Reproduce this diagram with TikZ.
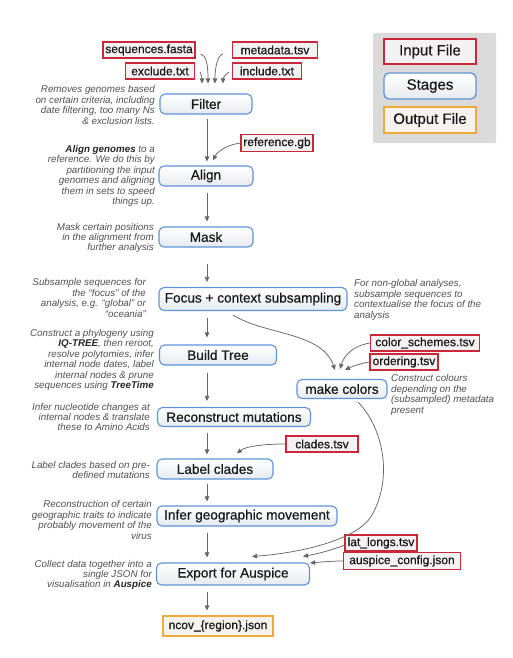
\documentclass[tikz,border=0pt]{standalone}
\usepackage{fontspec}
\setmainfont{Liberation Sans}
\newfontfamily\medfont[FakeBold=0.6]{Liberation Sans}
\usetikzlibrary{calc,arrows.meta}
\definecolor{stageblue}{HTML}{5F93D6}
\definecolor{stagefill}{HTML}{E6EAF0}
\definecolor{filered}{HTML}{C9283A}
\definecolor{filefill}{HTML}{F3F1F1}
\definecolor{outorange}{HTML}{F0AA3C}
\definecolor{outfill}{HTML}{F6F3EF}
\definecolor{descgray}{HTML}{505050}
\definecolor{arrgray}{HTML}{666666}
\definecolor{legendbg}{HTML}{DADADA}
\begin{document}
\begin{tikzpicture}[x=1pt,y=-1pt,
  stagebox/.style={draw=stageblue, line width=1.1pt, rounded corners=5pt, top color=white, bottom color=stagefill, font=\medfont\fontsize{13.6}{15}\selectfont, text=black!90, inner sep=0pt},
  filebox/.style={draw=filered, line width=1.1pt, fill=filefill, font=\medfont\fontsize{12}{14}\selectfont, text=black!90, inner sep=0pt, minimum height=16pt},
  outbox/.style={draw=outorange, line width=1.1pt, fill=outfill, font=\medfont\fontsize{12}{14}\selectfont, text=black!90, inner sep=0pt},
  legfont/.style={font=\medfont\fontsize{15}{17}\selectfont, text=black!90, inner sep=0pt, minimum width=92pt},
  desc/.style={font=\fontsize{9.8}{10.4}\selectfont\itshape, text=descgray, inner sep=0pt},
  arr/.style={draw=arrgray, line width=0.75pt, -{Triangle[length=5pt,width=4.5pt]}}
]
\useasboundingbox (0,0) rectangle (513,658);
\fill[white] (0,0) rectangle (513,658);
\coordinate (col) at (207,0);

% legend
\fill[legendbg, rounded corners=2pt] (373,33) rectangle (496,143);
\node[filebox, legfont, minimum height=25pt, line width=1.3pt] (legin) at (430,51.5) {Input File};
\node[stagebox, legfont, minimum height=26pt, line width=1.3pt] (legstage) at (430,86) {Stages};
\node[outbox, legfont, minimum height=26pt, line width=1.3pt] (legout) at (430,120) {Output File};

% input files
\node[filebox, minimum width=92pt] (seq) at (149,50) {sequences.fasta};
\node[filebox, minimum width=85pt] (meta) at (275,50) {metadata.tsv};
\node[filebox, minimum width=69pt] (excl) at (160,71) {exclude.txt};
\node[filebox, minimum width=69pt] (incl) at (267,71) {include.txt};
\node[filebox, minimum width=72pt, minimum height=17pt] (ref) at (277,143) {reference.gb};
\node[filebox, minimum width=109pt] (colsch) at (425,343) {color\_schemes.tsv};
\node[filebox, minimum width=68pt] (order) at (404,362) {ordering.tsv};
\node[filebox, minimum width=72pt] (clades) at (322,444) {clades.tsv};
\node[filebox, minimum width=72pt] (latlong) at (381,543) {lat\_longs.tsv};
\node[filebox, minimum width=117pt, minimum height=17pt] (ausp) at (402,561) {auspice\_config.json};

% stages
\node[stagebox, minimum width=92pt, minimum height=20pt] (filter) at (206,104) {Filter};
\node[stagebox, minimum width=94pt, minimum height=20pt] (align) at (206,176) {Align};
\node[stagebox, minimum width=94pt, minimum height=20pt] (mask) at (206,237) {Mask};
\node[stagebox, minimum width=188pt, minimum height=23pt] (focus) at (253,299) {Focus + context subsampling};
\node[stagebox, minimum width=117pt, minimum height=20pt] (build) at (218,355) {Build Tree};
\node[stagebox, minimum width=90pt, minimum height=19pt] (makecol) at (342,389) {make colors};
\node[stagebox, minimum width=153pt, minimum height=19pt] (recon) at (234,417) {Reconstruct mutations};
\node[stagebox, minimum width=116pt, minimum height=20pt] (label) at (215,469) {Label clades};
\node[stagebox, minimum width=180pt, minimum height=20pt] (infer) at (247,516) {Infer geographic movement};
\node[stagebox, minimum width=153pt, minimum height=22pt] (export) at (233,574) {Export for Auspice};
\node[outbox, minimum width=110pt, minimum height=20pt] (ncov) at (218,626) {ncov\_\{region\}.json};

% descriptions
\node[desc, anchor=east, align=right] (dfilter) at (155,105) {Removes genomes based\\on certain criteria, including\\date filtering, too many Ns\\\& exclusion lists.};
\node[desc, anchor=east, align=right] (dalign) at (155,176) {{\bfseries\color{black!85}Align genomes} to a\\reference. We do this by\\partitioning the input\\genomes and aligning\\them in sets to speed\\things up.};
\node[desc, anchor=east, align=right] (dmask) at (154,238) {Mask certain positions\\in the alignment from\\further analysis};
\node[desc, anchor=east, align=right] (dfocus) at (146,298) {Subsample sequences for\\the “focus” of the\\analysis, e.g. “global” or\\“oceania”};
\node[desc, anchor=west, align=left] (dfocus2) at (354,300) {For non-global analyses,\\subsample sequences to\\contextualise the focus of the\\analysis};
\node[desc, anchor=east, align=right] (dbuild) at (154,360) {Construct a phylogeny using\\{\bfseries\color{black!85}IQ-TREE}, then reroot,\\resolve polytomies, infer\\internal node dates, label\\internal nodes \& prune\\sequences using {\bfseries\color{black!85}TreeTime}};
\node[desc, anchor=west, align=left] (dmakecol) at (391,395) {Construct colours\\depending on the\\(subsampled) metadata\\present};
\node[desc, anchor=east, align=right] (drecon) at (150,417) {Infer nucleotide changes at\\internal nodes \& translate\\these to Amino Acids};
\node[desc, anchor=east, align=right] (dlabel) at (150,470) {Label clades based on pre-\\defined mutations};
\node[desc, anchor=east, align=right] (dinfer) at (152,520) {Reconstruction of certain\\geographic traits to indicate\\probably movement of the\\virus};
\node[desc, anchor=east, align=right] (dexport) at (152,575) {Collect data together into a\\single JSON for\\visualisation in {\bfseries\color{black!85}Auspice}};

% filter inputs
\draw[arr] ([xshift=5pt,yshift=-4pt]seq.east) .. controls (206,55) and (208,64) .. ($(filter.north)+(2,-10)$);
\draw[arr] ([xshift=-9pt,yshift=-4pt]meta.west) .. controls (218,55) and (215,66) .. ($(filter.north)+(9,-10)$);
\draw[arr] ([xshift=5pt,yshift=-1pt]excl.east) .. controls (201,74) and (202,78) .. ($(filter.north)+(-4,-10)$);
\draw[arr] ([xshift=-3pt,yshift=-1pt]incl.west) .. controls (226,74) and (223,78) .. ($(filter.north)+(17,-10)$);

% reference
\draw[arr] (ref.west) .. controls (226,145) and (217,152) .. ($(align.north)+(7,-5)$);

% main column
\draw[arr] ($(filter.south -| col)+(0,4)$) -- ($(align.north -| col)+(0,-4)$);
\draw[arr] ($(align.south -| col)+(0,6)$) -- ($(mask.north -| col)+(0,-5)$);
\draw[arr] ($(mask.south -| col)+(0,16)$) -- ($(focus.north -| col)+(0,-5)$);
\draw[arr] ($(focus.south -| col)+(0,7)$) -- ($(build.north -| col)+(0,-7)$);
\draw[arr] ($(build.south -| col)+(0,7)$) -- ($(recon.north -| col)+(0,-6)$);
\draw[arr] ($(recon.south -| col)+(0,6)$) -- ($(label.north -| col)+(0,-4)$);
\draw[arr] ($(label.south -| col)+(0,4)$) -- ($(infer.north -| col)+(0,-4)$);
\draw[arr] ($(infer.south -| col)+(0,6)$) -- ($(export.north -| col)+(0,-5)$);
\draw[arr] ($(export.south -| col)+(0,6)$) -- ($(ncov.north -| col)+(0,-5)$);

% make colors
\draw[arr] ($(focus.south)+(-20,4)$) .. controls (265,335) and (322,332) .. ($(makecol.north)+(-7,-9)$);
\draw[arr] (colsch.west) .. controls (352,346) and (344,356) .. ($(makecol.north)+(-2,-10)$);
\draw[arr] (order.west) .. controls (358,364) and (351,367) .. ($(makecol.north)+(3,-9)$);
\draw[arr] ($(makecol.south)+(16,3)$) .. controls (385,430) and (392,480) .. (372,515) .. controls (358,540) and (300,553) .. ($(export.north)+(19,-6)$);

% clades, lat_longs, auspice_config
\draw[arr] (clades.west) .. controls (266,444) and (246,446) .. ($(label.north)+(22,-5)$);
\draw[arr] ([yshift=-2pt]latlong.west) .. controls (330,551) and (316,554) .. ($(export.north)+(70,-6)$);
\draw[arr] (ausp.west) .. controls (332,561) and (322,562) .. ($(export.east)+(0,-11)$);
\end{tikzpicture}
\end{document}
